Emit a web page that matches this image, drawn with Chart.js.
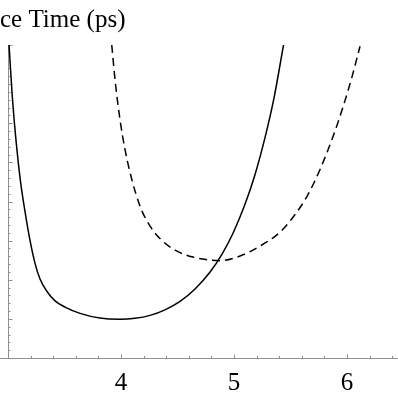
<!DOCTYPE html>
<html>
<head>
<meta charset="utf-8">
<script src="https://cdn.jsdelivr.net/npm/chart.js@4/dist/chart.umd.min.js"></script>
<style>
  html, body { margin: 0; padding: 0; background: #ffffff; }
  #wrap { width: 398px; height: 398px; }
</style>
</head>
<body>
<div id="wrap"><canvas id="c" width="398" height="398"></canvas></div>
<script>
// ---- data ----
const titleText = "ce Time (ps)";
const xTickLabels = [4, 5, 6];
const xRange = [2.929, 6.451];
const yRange = [0, 8];

const solidX = [3.009, 3.035, 3.062, 3.088, 3.115, 3.150, 3.195, 3.239, 3.283, 3.345, 3.416, 3.504, 3.637, 3.814, 3.991, 4.124, 4.257, 4.389, 4.522, 4.655, 4.788, 4.894, 4.991, 5.097, 5.186, 5.274, 5.354, 5.438];
const solidY = [8.00, 6.80, 5.83, 5.07, 4.41, 3.75, 3.00, 2.42, 2.02, 1.70, 1.46, 1.30, 1.14, 1.02, 0.99, 1.014, 1.090, 1.231, 1.447, 1.765, 2.198, 2.656, 3.190, 3.928, 4.692, 5.633, 6.651, 8.00];

const dashedX = [3.918, 3.947, 3.991, 4.035, 4.095, 4.168, 4.257, 4.363, 4.496, 4.637, 4.788, 4.876, 5.053, 5.230, 5.407, 5.522, 5.646, 5.761, 5.876, 5.965, 6.044, 6.115];
const dashedY = [8.00, 7.11, 6.09, 5.33, 4.57, 3.88, 3.37, 3.00, 2.73, 2.58, 2.504, 2.486, 2.606, 2.860, 3.216, 3.598, 4.132, 4.819, 5.659, 6.422, 7.186, 7.967];

const toPoints = (xs, ys) => xs.map((x, i) => ({ x: x, y: ys[i] }));

const axisColor = '#8f8f8f';
const serif = '"Liberation Serif", "DejaVu Serif", serif';

// Mathematica-style axes: axis lines through (3, 0) with inward major/minor ticks
const axesPlugin = {
  id: 'mmaAxes',
  beforeDatasetsDraw(chart) {
    const ctx = chart.ctx;
    const xs = chart.scales.x, ys = chart.scales.y;
    const area = chart.chartArea;
    const x0 = Math.round(xs.getPixelForValue(3)) + 0.5;
    const y0 = Math.round(ys.getPixelForValue(0)) + 0.5;
    ctx.save();
    ctx.strokeStyle = axisColor;
    ctx.lineWidth = 1;
    ctx.beginPath();
    ctx.moveTo(area.left, y0);
    ctx.lineTo(area.right, y0);
    ctx.moveTo(x0, y0);
    ctx.lineTo(x0, ys.getPixelForValue(yRange[1]));
    ctx.stroke();
    ctx.beginPath();
    for (let k = 16; k <= 32; k++) {
      const px = Math.round(xs.getPixelForValue(k / 5)) + 0.5;
      const len = (k % 5 === 0) ? 4 : 2.5;
      ctx.moveTo(px, y0);
      ctx.lineTo(px, y0 - len);
    }
    for (let k = 1; k <= 40; k++) {
      const py = Math.round(ys.getPixelForValue(k / 5)) + 0.5;
      const len = (k % 5 === 0) ? 4 : 2;
      ctx.moveTo(x0, py);
      ctx.lineTo(x0 + len, py);
    }
    ctx.stroke();
    ctx.restore();
  }
};

new Chart(document.getElementById('c'), {
  type: 'line',
  data: {
    datasets: [
      {
        data: toPoints(solidX, solidY),
        borderColor: '#000000',
        borderWidth: 1.5,
        pointRadius: 0,
        cubicInterpolationMode: 'monotone',
        fill: false
      },
      {
        data: toPoints(dashedX, dashedY),
        borderColor: '#000000',
        borderWidth: 1.5,
        borderDash: [8, 5],
        pointRadius: 0,
        cubicInterpolationMode: 'monotone',
        fill: false
      }
    ]
  },
  options: {
    responsive: false,
    animation: false,
    devicePixelRatio: 1,
    layout: { padding: { left: 0, right: 0, top: 0, bottom: -11 } },
    plugins: {
      legend: { display: false },
      tooltip: { enabled: false },
      title: {
        display: true,
        text: titleText,
        align: 'start',
        color: '#000000',
        font: { family: serif, size: 25, weight: 'normal', lineHeight: 1.2 },
        padding: { top: 5.5, bottom: 9.5 }
      }
    },
    scales: {
      x: {
        type: 'linear',
        min: xRange[0],
        max: xRange[1],
        border: { display: false },
        grid: { display: false, drawTicks: false },
        afterBuildTicks: (scale) => { scale.ticks = xTickLabels.map(v => ({ value: v })); },
        ticks: {
          autoSkip: false,
          maxRotation: 0,
          color: '#000000',
          padding: 13,
          font: { family: serif, size: 25, lineHeight: 1.0 },
          callback: (v) => String(v)
        }
      },
      y: {
        type: 'linear',
        display: false,
        min: yRange[0],
        max: yRange[1]
      }
    }
  },
  plugins: [axesPlugin]
});
</script>
</body>
</html>
